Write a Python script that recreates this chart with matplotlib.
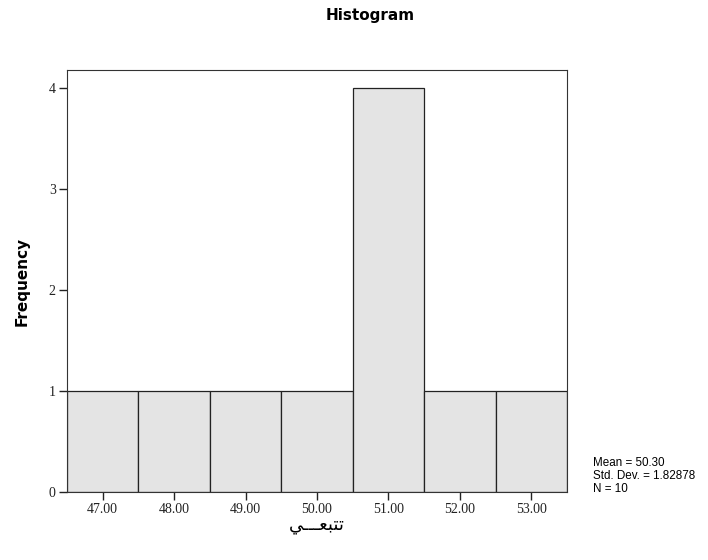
import numpy as np
import matplotlib.pyplot as plt

# raw scores (SPSS histogram, one bar per value)
values = [47, 48, 49, 50, 51, 51, 51, 51, 52, 53]
tick_vals = [47, 48, 49, 50, 51, 52, 53]
tick_labels = ['47.00', '48.00', '49.00', '50.00', '51.00', '52.00', '53.00']
x_label = 'تتبعـــي'

# matplotlib does no arabic shaping -> map to presentation forms by hand
forms = {  # isolated, final, initial, medial
    'ت': ('\uFE95', '\uFE96', '\uFE97', '\uFE98'),
    'ب': ('\uFE8F', '\uFE90', '\uFE91', '\uFE92'),
    'ع': ('\uFEC9', '\uFECA', '\uFECB', '\uFECC'),
    'ي': ('\uFEF1', '\uFEF2', '\uFEF3', '\uFEF4'),
}

def shape(s):
    out = []
    for i, c in enumerate(s):
        if c not in forms:
            out.append(c)
            continue
        prev = i > 0
        nxt = i < len(s) - 1
        if prev and nxt:
            out.append(forms[c][3])
        elif prev:
            out.append(forms[c][1])
        elif nxt:
            out.append(forms[c][2])
        else:
            out.append(forms[c][0])
    return ''.join(out[::-1])

mean = np.mean(values)
sd = np.std(values, ddof=1)
n = len(values)

fig = plt.figure(figsize=(7.08, 5.6), dpi=100)
ax = fig.add_axes([0.0946, 0.1214, 0.7064, 0.7536])

bins = np.arange(46.5, 54.0, 1.0)
ax.hist(values, bins=bins, color='#e4e4e4', edgecolor='#222222', linewidth=0.9)

ax.set_xlim(46.5, 53.5)
ax.set_ylim(0, 4.18)
ax.set_xticks(tick_vals)
ax.set_xticklabels(tick_labels, family='Liberation Serif', fontsize=10)
ax.set_yticks([0, 1, 2, 3, 4])
ax.set_yticklabels(['0', '1', '2', '3', '4'], family='Liberation Serif', fontsize=10)
ax.tick_params(direction='out', length=6, width=1, colors='#222222', pad=2)
for sp in ax.spines.values():
    sp.set_color('#333333')

ax.set_ylabel('Frequency', fontsize=11, fontweight='bold', labelpad=14)
ax.set_xlabel(shape(x_label), fontsize=13, family='DejaVu Sans', labelpad=0)
fig.suptitle('Histogram', x=0.523, y=0.985, fontsize=11, fontweight='bold')

fs = 8.4
fig.text(0.838, 0.167, 'Mean = %.2f' % mean, fontsize=fs, family='Liberation Sans')
fig.text(0.838, 0.144, 'Std. Dev. = %.5f' % sd, fontsize=fs, family='Liberation Sans')
fig.text(0.838, 0.121, 'N = %d' % n, fontsize=fs, family='Liberation Sans')

plt.savefig('out.png', dpi=100)
